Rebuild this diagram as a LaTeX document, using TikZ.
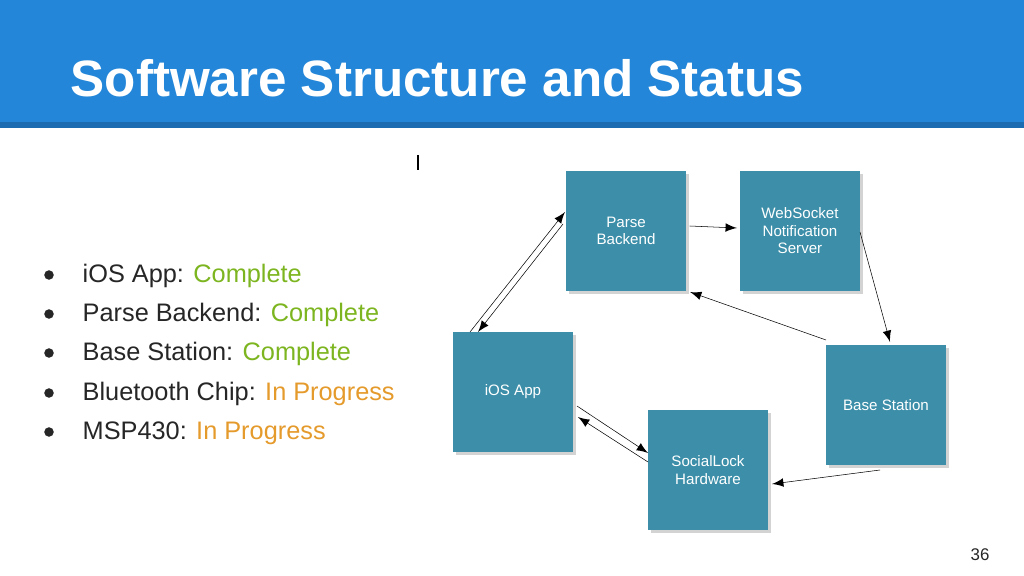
\documentclass[tikz,border=0pt]{standalone}
\usepackage{fontspec}
\setmainfont{Liberation Sans}
\usetikzlibrary{shadows}
\definecolor{headblue}{HTML}{2386D8}
\definecolor{headline}{HTML}{1B6CB0}
\definecolor{boxteal}{HTML}{3D8FA9}
\definecolor{okgreen}{HTML}{7CB520}
\definecolor{wiporange}{HTML}{E59A2C}
\tikzset{
  modbox/.style={draw=none, fill=boxteal, minimum width=1.2cm, minimum height=1.2cm,
    align=center, text=white, font=\fontsize{4.3}{5}\selectfont, drop shadow={opacity=0.35, shadow xshift=0.3mm, shadow yshift=-0.3mm}},
  link/.style={-latex, black, line width=0.15pt},
  item/.style={anchor=west, inner sep=0, font=\fontsize{7.2}{8}\selectfont, text=black!85},
  dot/.style={circle, fill=black!85, inner sep=0, minimum size=0.095cm}
}
\begin{document}
\begin{tikzpicture}[x=0.01cm, y=-0.01cm]
\useasboundingbox (0,0) rectangle (1024,576);

% header
\fill[headblue] (0,0) rectangle (1024,124);
\fill[headline] (0,122) rectangle (1024,128);
\node[anchor=base west, text=white, font=\bfseries\fontsize{14.55}{16}\selectfont, inner sep=0] (title) at (70,97) {Software Structure and Status};
\draw[black, line width=0.3pt] (418,155) -- (418,170);

% status list
\foreach \y [count=\i] in {275,314,353,393,432}
  \node[dot] (d\i) at (49,\y) {};
\node[item] (s1) at (82,276) {iOS App: \textcolor{okgreen}{Complete}};
\node[item] (s2) at (82,315) {Parse Backend: \textcolor{okgreen}{Complete}};
\node[item] (s3) at (82,354) {Base Station: \textcolor{okgreen}{Complete}};
\node[item] (s4) at (82,394) {Bluetooth Chip: \textcolor{wiporange}{In Progress}};
\node[item] (s5) at (82,433) {MSP430: \textcolor{wiporange}{In Progress}};

% modules
\node[modbox] (parse) at (626,231) {Parse\\Backend};
\node[modbox] (socket) at (800,231) {WebSocket\\Notification\\Server};
\node[modbox] (ios) at (513,392) {iOS App};
\node[modbox] (base) at (886,405) {Base Station};
\node[modbox] (lock) at (708,470) {SocialLock\\Hardware};

% links
\draw[link] (parse.east) ++(3,-5) coordinate (p1) (p1) -- (737,228);
\draw[link] (860,232) -- (890,342);
\draw[link] (826,340) -- (690,292);
\draw[link] (880,470) -- (772,484);
\draw[link] (470,332) -- (565,212);
\draw[link] (563,224) -- (478,332);
\draw[link] (577,406) -- (648,453);
\draw[link] (648,462) -- (578,417);

\node[font=\fontsize{4.8}{6}\selectfont, text=black!85] (page) at (980,555) {36};
\end{tikzpicture}
\end{document}
